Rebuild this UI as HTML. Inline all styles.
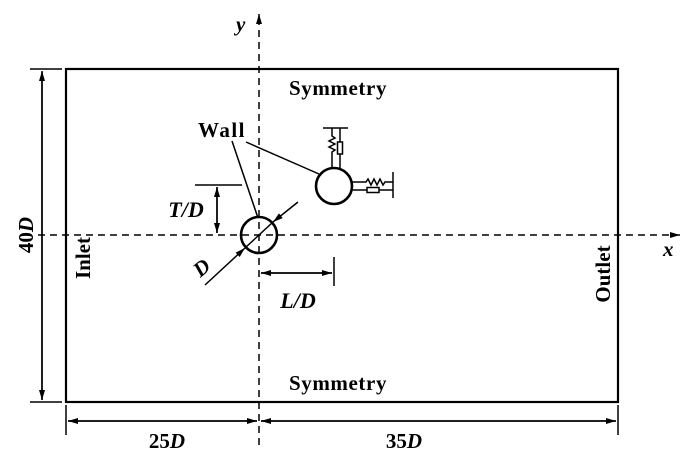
<!DOCTYPE html>
<html><head><style>body{margin:0;background:#fff}svg{display:block}text{font-family:"Liberation Serif",serif;fill:#000}</style></head><body>
<svg width="700" height="457" viewBox="0 0 700 457">
<defs><marker id="a" viewBox="0 0 10 6" refX="10" refY="3" markerWidth="11" markerHeight="6" markerUnits="userSpaceOnUse" orient="auto"><path d="M0,0L10,3L0,6z"/></marker></defs>
<g stroke="#000" fill="none" stroke-width="1.5">
<rect x="66" y="69" width="552" height="333" stroke-width="2.2"/>
<line x1="38" y1="235" x2="678" y2="235" stroke-dasharray="7,5" />
<line x1="678" y1="235" x2="680" y2="235" marker-end="url(#a)"/>
<line x1="259" y1="445" x2="259" y2="16" stroke-dasharray="7,5"/>
<line x1="259" y1="18" x2="259" y2="14" marker-end="url(#a)"/>
<circle cx="259" cy="235" r="18" stroke-width="2.6"/>
<circle cx="334" cy="186" r="18" stroke-width="2.6"/>
<line x1="42" y1="400" x2="42" y2="71" marker-end="url(#a)"/>
<line x1="42" y1="72" x2="42" y2="400" marker-end="url(#a)"/>
<line x1="30" y1="69" x2="62" y2="69"/><line x1="30" y1="402" x2="62" y2="402"/>
<line x1="66" y1="405" x2="66" y2="435"/><line x1="618" y1="405" x2="618" y2="435"/>
<line x1="257" y1="421" x2="68" y2="421" marker-end="url(#a)"/>
<line x1="68" y1="421" x2="257" y2="421" marker-end="url(#a)"/>
<line x1="616" y1="421" x2="261" y2="421" marker-end="url(#a)"/>
<line x1="261" y1="421" x2="616" y2="421" marker-end="url(#a)"/>
<line x1="195" y1="185" x2="242" y2="185"/>
<line x1="217" y1="233" x2="217" y2="187" marker-end="url(#a)"/>
<line x1="217" y1="187" x2="217" y2="233" marker-end="url(#a)"/>
<line x1="334" y1="257" x2="334" y2="286"/>
<line x1="332" y1="273" x2="261" y2="273" marker-end="url(#a)"/>
<line x1="261" y1="273" x2="332" y2="273" marker-end="url(#a)"/>
<line x1="205" y1="285" x2="245" y2="248" marker-end="url(#a)"/>
<line x1="298" y1="202" x2="273" y2="222" marker-end="url(#a)"/>
<line x1="245" y1="248" x2="273" y2="222"/>
<line x1="232" y1="141" x2="258" y2="218"/>
<line x1="246" y1="142" x2="319" y2="174"/>
<line x1="323" y1="128" x2="348" y2="128"/>
<line x1="340" y1="128" x2="340" y2="169"/>
<rect x="337.5" y="142" width="5" height="12" fill="#fff"/>
<polyline points="332,128 332,136 335,138 329,141 335,144 329,147 335,150 332,152 332,169"/>
<line x1="393" y1="172" x2="393" y2="198"/>
<line x1="352" y1="190" x2="393" y2="190"/>
<rect x="367" y="187.5" width="12" height="5" fill="#fff"/>
<polyline points="352,182 366,182 368,179 371,185 374,179 377,185 380,179 383,185 385,182 393,182"/>
</g>
<g font-weight="bold" font-size="21">
<text x="338" y="95" text-anchor="middle" letter-spacing="0.6">Symmetry</text>
<text x="338" y="390" text-anchor="middle" letter-spacing="0.6">Symmetry</text>
<text x="198" y="137" letter-spacing="1.5">Wall</text>
<text transform="translate(90,258) rotate(-90)" text-anchor="middle">Inlet</text>
<text transform="translate(610,274) rotate(-90)" text-anchor="middle">Outlet</text>
<text transform="translate(33,235) rotate(-90)" text-anchor="middle">40<tspan font-style="italic">D</tspan></text>
<text x="167" y="448" text-anchor="middle">25<tspan font-style="italic">D</tspan></text>
<text x="404" y="448" text-anchor="middle">35<tspan font-style="italic">D</tspan></text>
<text x="186" y="217" text-anchor="middle" font-style="italic" font-size="22">T/D</text>
<text x="298" y="308" text-anchor="middle" font-style="italic" font-size="22">L/D</text>
<text transform="translate(206,273) rotate(-40)" text-anchor="middle" font-style="italic">D</text>
<text x="236" y="31" font-style="italic">y</text>
<text x="663" y="256" font-style="italic">x</text>
</g>
</svg>
</body></html>
